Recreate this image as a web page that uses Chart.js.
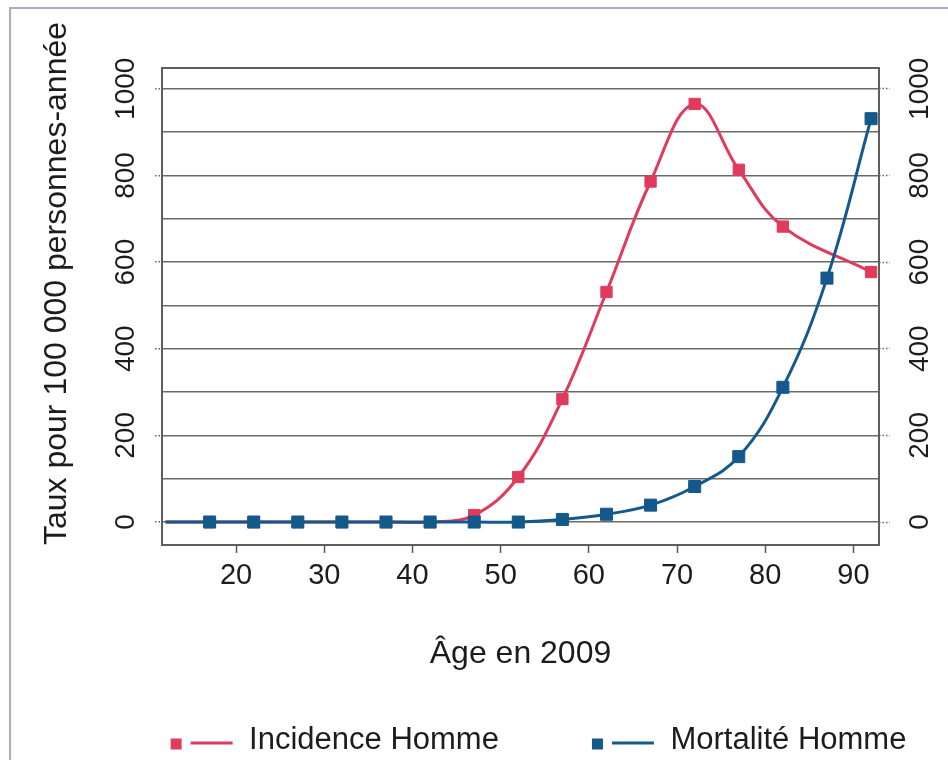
<!DOCTYPE html>
<html>
<head>
<meta charset="utf-8">
<script src="https://cdn.jsdelivr.net/npm/chart.js@4.4.1/dist/chart.umd.min.js"></script>
<style>
  html, body { margin: 0; padding: 0; background: #fff; }
  #wrap { position: relative; width: 948px; height: 760px; overflow: hidden; }
  #frame { position: absolute; left: 9px; top: 7px; width: 1000px; height: 800px; border: 2px solid #a7b0bd; }
  canvas { position: absolute; left: 0; top: 0; }
</style>
</head>
<body>
<div id="wrap"><div id="frame"></div><canvas id="chart" width="948" height="760"></canvas></div>
<script>
// ages (class midpoints), first one only carries the line to the left edge
var ages = [12, 17, 22, 27, 32, 37, 42, 47, 52, 57, 62, 67, 72, 77, 82, 87, 92];
var incidence = [0, 0, 0, 0, 0, 0, 0, 16, 104, 284, 531, 786, 965, 813, 682, null, 577];
var mortality = [0, 0, 0, 0, 0, 0, 0, 0, 0, 6, 18, 39, 82, 151, 311, 563, 931];
var xTicks = [20, 30, 40, 50, 60, 70, 80, 90];
var yTicks = [0, 100, 200, 300, 400, 500, 600, 700, 800, 900, 1000];

var RED = '#e03b5c';
var BLUE = '#14598c';
var GRID = '#6a6a6a';

Chart.defaults.font.family = "'Liberation Sans', Arial, Helvetica, sans-serif";
Chart.defaults.color = '#1c1c1c';

function points(values) {
  return ages.map(function (a, i) { return { x: a, y: values[i] }; });
}

// legend icon: small square + short line
function makeIcon(color) {
  var c = document.createElement('canvas');
  c.width = 146; c.height = 24;
  var g = c.getContext('2d');
  g.fillStyle = color;
  g.fillRect(83, 10, 11, 11);
  g.strokeStyle = color;
  g.lineWidth = 3;
  g.beginPath(); g.moveTo(103, 14.5); g.lineTo(145, 14.5); g.stroke();
  return c;
}

var frame = {
  id: 'frame',
  beforeDatasetsDraw: function (chart) {
    var a = chart.chartArea, ctx = chart.ctx;
    ctx.save();
    ctx.strokeStyle = '#5e5e5e';
    ctx.lineWidth = 2;
    ctx.strokeRect(a.left, a.top, a.right - a.left, a.bottom - a.top);
    ctx.restore();
  }
};

var majorColor = function (ctx) {
  return ctx.tick && ctx.tick.value % 200 === 0 ? GRID : 'rgba(0,0,0,0)';
};
var yLabel = function (v) { return v % 200 === 0 ? String(v) : ''; };
var setYTicks = function (axis) { axis.ticks = yTicks.map(function (v) { return { value: v }; }); };

var ctx = document.getElementById('chart');
var chart = new Chart(ctx, {
  type: 'line',
  data: {
    datasets: [
      {
        label: 'Mortalité Homme',
        data: points(mortality),
        borderColor: BLUE,
        backgroundColor: BLUE,
        borderWidth: 3,
        pointStyle: 'rect',
        pointRadius: function (c) { return c.dataIndex === 0 ? 0 : 8.5; },
        pointBorderWidth: 1,
        tension: 0.4
      },
      {
        label: 'Incidence Homme',
        data: points(incidence),
        borderColor: RED,
        backgroundColor: RED,
        borderWidth: 3,
        pointStyle: 'rect',
        pointRadius: function (c) { return c.dataIndex === 0 ? 0 : 8; },
        pointBorderWidth: 1,
        spanGaps: true,
        tension: 0.4
      }
    ]
  },
  options: {
    responsive: false,
    animation: false,
    devicePixelRatio: 1,
    layout: { padding: { left: 46, right: 0, top: 68, bottom: -6 } },
    scales: {
      x: {
        type: 'linear',
        min: 11.6,
        max: 92.9,
        afterBuildTicks: function (axis) { axis.ticks = xTicks.map(function (v) { return { value: v }; }); },
        afterFit: function (axis) { axis.height = 170; },
        grid: { drawOnChartArea: false, tickLength: 8, tickColor: '#555', tickWidth: 1.5 },
        border: { display: false },
        ticks: { padding: 6, font: { size: 29 }, maxRotation: 0, autoSkip: false },
        title: { display: true, text: 'Âge en 2009', font: { size: 32 }, padding: { top: 0, bottom: 42 } }
      },
      y: {
        type: 'linear',
        position: 'left',
        min: -53,
        max: 1048,
        afterBuildTicks: setYTicks,
        afterFit: function (axis) { axis.width = 116; },
        grid: {
          color: GRID, lineWidth: 1.5, borderDash: [1.5, 2],
          tickLength: 7, tickColor: majorColor, tickWidth: 1.5, tickBorderDash: [1.5, 2]
        },
        border: { display: false },
        ticks: { minRotation: 90, maxRotation: 90, crossAlign: 'center', autoSkip: false, padding: -2, font: { size: 28 }, callback: yLabel },
        title: { display: true, text: 'Taux pour 100 000 personnes-année', align: 'start', font: { size: 32 }, padding: { top: -8, bottom: 0 } }
      },
      y1: {
        type: 'linear',
        position: 'right',
        min: -53,
        max: 1048,
        afterBuildTicks: setYTicks,
        afterFit: function (axis) { axis.width = 69; },
        grid: {
          drawOnChartArea: false,
          tickLength: 11, tickColor: majorColor, tickWidth: 1.5, tickBorderDash: [1.5, 2]
        },
        border: { display: false },
        ticks: { minRotation: 90, maxRotation: 90, crossAlign: 'center', autoSkip: false, padding: -1, font: { size: 28 }, callback: yLabel }
      }
    },
    plugins: {
      tooltip: { enabled: false },
      legend: {
        position: 'bottom',
        reverse: true,
        labels: {
          usePointStyle: true,
          pointStyleWidth: 146,
          padding: 10,
          color: '#1c1c1c',
          font: { size: 31 },
          generateLabels: function (chart) {
            var items = Chart.defaults.plugins.legend.labels.generateLabels(chart);
            items.forEach(function (it) {
              it.pointStyle = makeIcon(chart.data.datasets[it.datasetIndex].borderColor);
            });
            return items;
          }
        }
      }
    }
  },
  plugins: [frame]
});
</script>
</body>
</html>
